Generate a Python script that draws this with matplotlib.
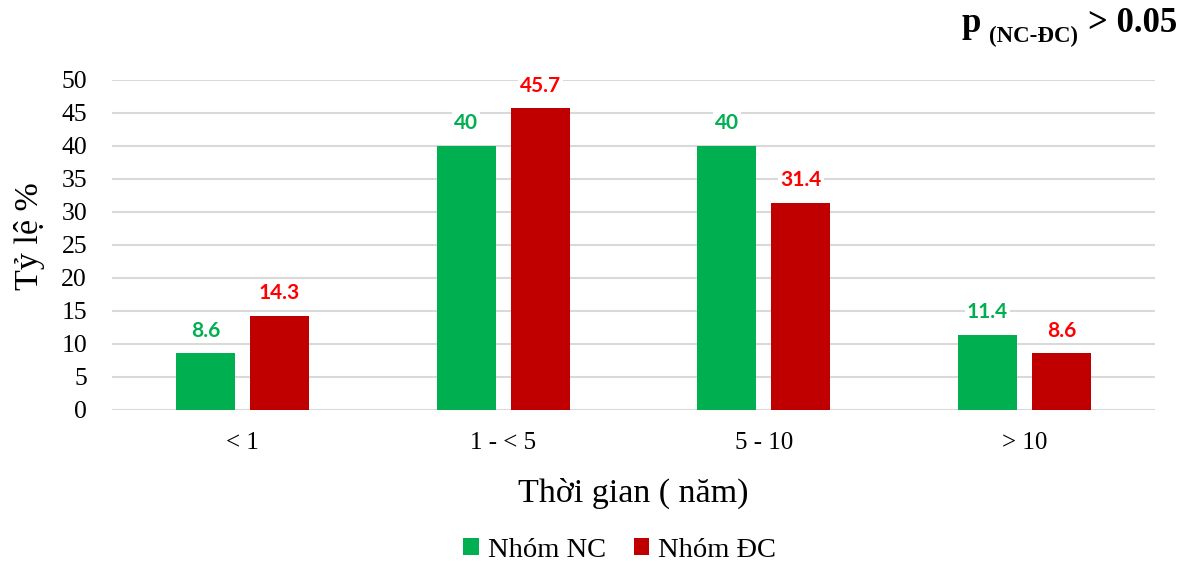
import matplotlib
matplotlib.use("Agg")
import matplotlib.pyplot as plt
import numpy as np

categories = ["< 1", "1 - < 5", "5 - 10", "> 10"]
nhom_nc = [8.6, 40, 40, 11.4]
nhom_dc = [14.3, 45.7, 31.4, 8.6]
nc_labels = ["8.6", "40", "40", "11.4"]
dc_labels = ["14.3", "45.7", "31.4", "8.6"]
yticks = [0, 5, 10, 15, 20, 25, 30, 35, 40, 45, 50]

GREEN = "#00B050"
DARK_RED = "#C00000"
LABEL_RED = "#FF0000"
GRID = "#D9D9D9"
SERIF = "Liberation Serif"
SANS = "Lato"

fig = plt.figure(figsize=(11.89, 5.61), dpi=100)
ax = fig.add_axes([0.0942, 0.2692, 0.8772, 0.5882])

x = np.arange(len(categories))
w = 0.227
off = 0.142
b1 = ax.bar(x - off, nhom_nc, w, color=GREEN, label="Nhóm NC", zorder=3)
b2 = ax.bar(x + off, nhom_dc, w, color=DARK_RED, label="Nhóm ĐC", zorder=3)

for bars, labels, col in ((b1, nc_labels, GREEN), (b2, dc_labels, LABEL_RED)):
    for rect, lab in zip(bars, labels):
        ax.annotate(lab, (rect.get_x() + rect.get_width() / 2, rect.get_height()),
                    xytext=(0, 9), textcoords="offset points", ha="center", va="bottom",
                    fontsize=15, fontweight="bold", color=col, family=SANS, zorder=4,
                    bbox=dict(boxstyle="square,pad=0.1", fc="white", ec="none"))

ax.set_xlim(-0.5, 3.5)
ax.set_ylim(0, 50)
ax.set_yticks(yticks)
ax.set_xticks(x)
ax.set_xticklabels(categories)
for s in ax.spines.values():
    s.set_visible(False)
ax.tick_params(length=0, labelsize=18.5)
ax.tick_params(axis="y", pad=18)
ax.tick_params(axis="x", pad=16, labelsize=18)
for t in ax.get_xticklabels() + ax.get_yticklabels():
    t.set_family(SERIF)
ax.yaxis.grid(True, color=GRID, linewidth=1.5, zorder=0)
ax.set_axisbelow(True)

ax.set_ylabel("Tỷ lệ %", fontsize=24.5, family=SERIF)
ax.yaxis.set_label_coords(-0.064, 0.527)
ax.set_xlabel("Thời gian ( năm)", fontsize=24.5, family=SERIF, labelpad=17)

fig.legend(handles=[b1, b2], loc="center", bbox_to_anchor=(0.5214, 0.019),
           ncol=2, frameon=False, prop={"family": SERIF, "size": 20.5},
           handlelength=0.53, handleheight=0.53, handletextpad=0.32, columnspacing=1.0)

# significance note in the upper right corner, placed piece by piece in pixels
fig.canvas.draw()
renderer = fig.canvas.get_renderer()
H = 561
x0 = 962
base = H - 32
parts = [("p", 25, 0, 0), ("(NC-ĐC)", 16.5, -10, 8), ("> 0.05", 25, 0, 10)]
cur = x0
for txt, size, dy, gap in parts:
    cur += gap
    t = fig.text(cur, base + dy, txt, fontsize=size, fontweight="bold", family=SERIF,
                 ha="left", va="baseline", transform=None)
    bb = t.get_window_extent(renderer)
    cur = bb.x1

fig.savefig("out.png", dpi=100)
